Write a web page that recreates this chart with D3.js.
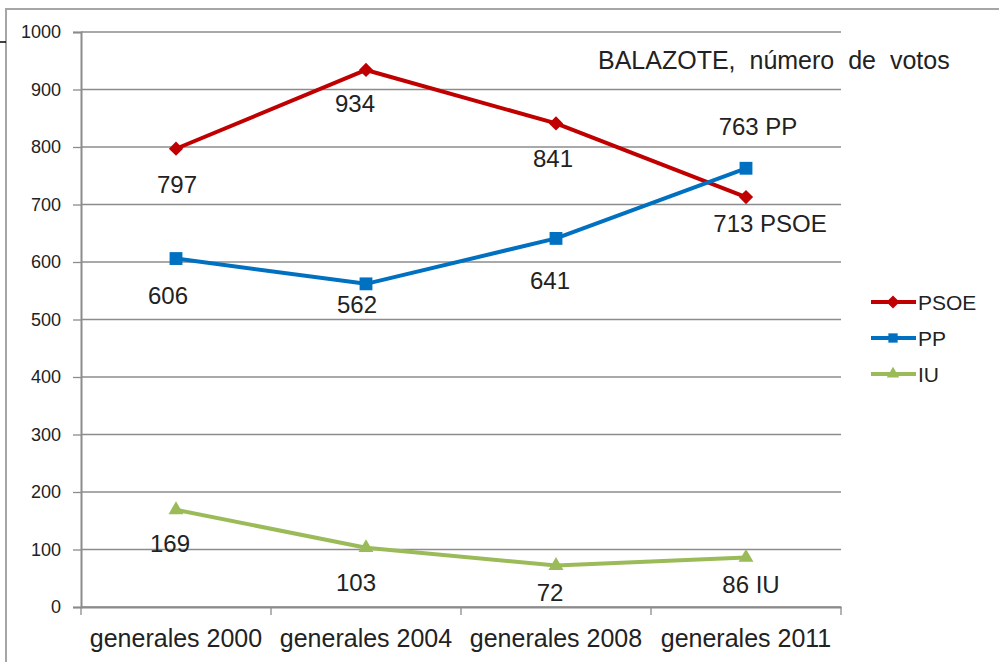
<!DOCTYPE html>
<html>
<head>
<meta charset="utf-8">
<script src="https://cdn.jsdelivr.net/npm/d3@7"></script>
<style>
  body { margin: 0; background: #fff; }
  svg { display: block; font-family: "Liberation Sans", Arial, sans-serif; }
</style>
</head>
<body>
<svg id="chart" width="999" height="662"></svg>
<script>
// categories and series values
const categories = ['generales 2000', 'generales 2004', 'generales 2008', 'generales 2011'];
const psoe = [797, 934, 841, 713];
const pp = [606, 562, 641, 763];
const iu = [169, 103, 72, 86];
const yTicks = [0, 100, 200, 300, 400, 500, 600, 700, 800, 900, 1000];

// label texts (last point carries the party name)
const psoeLabels = ['797', '934', '841', '713 PSOE'];
const ppLabels = ['606', '562', '641', '763 PP'];
const iuLabels = ['169', '103', '72', '86 IU'];

// manual label nudges (dx, dy from the point), as placed in the original
const psoeNudge = [[1, 36], [-11, 34], [-3, 35], [24, 27]];
const ppNudge = [[-8, 37], [-9, 21], [-6, 42], [12, -42]];
const iuNudge = [[-6, 34], [-10, 35], [-6, 27], [5, 27]];

const series = [
  {name: 'PSOE', values: psoe, labels: psoeLabels, nudge: psoeNudge, color: '#C00000', marker: 'diamond'},
  {name: 'PP', values: pp, labels: ppLabels, nudge: ppNudge, color: '#0070C0', marker: 'square'},
  {name: 'IU', values: iu, labels: iuLabels, nudge: iuNudge, color: '#9BBB59', marker: 'triangle'}
];

const svg = d3.select('#chart');
const plot = {left: 81, right: 841, top: 32, bottom: 607};

// outer frame (runs off the bottom/right of the picture)
svg.append('rect')
    .attr('x', 6).attr('y', 9)
    .attr('width', 1200).attr('height', 1000)
    .attr('fill', 'none')
    .attr('stroke', '#a6a6a6')
    .attr('stroke-width', 2);
svg.append('line')
    .attr('x1', 0).attr('x2', 6).attr('y1', 42).attr('y2', 42)
    .attr('stroke', '#000').attr('stroke-width', 1.5);

const x = d3.scaleBand()
    .domain(categories)
    .range([plot.left, plot.right]);
const y = d3.scaleLinear()
    .domain([0, 1000])
    .range([plot.bottom, plot.top]);
const cx = c => x(c) + x.bandwidth() / 2;

// gridlines
svg.append('g')
  .selectAll('line')
  .data(yTicks)
  .join('line')
    .attr('x1', plot.left).attr('x2', plot.right)
    .attr('y1', d => y(d)).attr('y2', d => y(d))
    .attr('stroke', '#8c8c8c')
    .attr('stroke-width', 1.3);

// y axis
const yAxis = d3.axisLeft(y)
    .tickValues(yTicks)
    .tickSize(8)
    .tickPadding(12)
    .tickFormat(d3.format('d'));
const yG = svg.append('g')
    .attr('transform', `translate(${plot.left},0)`)
    .call(yAxis);
yG.select('.domain').attr('stroke', '#8c8c8c').attr('stroke-width', 2);
yG.selectAll('.tick line').attr('stroke', '#8c8c8c').attr('stroke-width', 1.3);
yG.selectAll('.tick text')
    .attr('font-size', 18)
    .attr('font-family', '"Liberation Sans", Arial, sans-serif')
    .attr('fill', '#222');

// x axis: ticks between categories
const xAxis = d3.axisBottom(x).tickSize(0).tickPadding(22);
const xG = svg.append('g')
    .attr('transform', `translate(0,${plot.bottom})`)
    .call(xAxis);
xG.select('.domain').attr('stroke', '#8c8c8c').attr('stroke-width', 2);
xG.selectAll('.tick text')
    .attr('font-size', 25)
    .attr('font-family', '"Liberation Sans", Arial, sans-serif')
    .attr('fill', '#222');
xG.selectAll('line.sep')
  .data(categories.map(c => x(c)).concat([plot.right]))
  .join('line')
    .attr('class', 'sep')
    .attr('x1', d => d).attr('x2', d => d)
    .attr('y1', 0).attr('y2', 8)
    .attr('stroke', '#8c8c8c')
    .attr('stroke-width', 1.3);

const symbolFor = {
  diamond: d3.symbol().type(d3.symbolDiamond2).size(130),
  square: d3.symbol().type(d3.symbolSquare2).size(210),
  triangle: d3.symbol().type(d3.symbolTriangle2).size(160)
};

const line = d3.line()
    .x((d, i) => cx(categories[i]))
    .y(d => y(d));

series.forEach(s => {
  svg.append('path')
      .datum(s.values)
      .attr('fill', 'none')
      .attr('stroke', s.color)
      .attr('stroke-width', 4)
      .attr('stroke-linejoin', 'round')
      .attr('d', line);

  svg.append('g')
    .selectAll('path')
    .data(s.values)
    .join('path')
      .attr('transform', (d, i) => `translate(${cx(categories[i])},${y(d)})`)
      .attr('d', symbolFor[s.marker])
      .attr('fill', s.color);

  svg.append('g')
    .selectAll('text')
    .data(s.values)
    .join('text')
      .attr('x', (d, i) => cx(categories[i]) + s.nudge[i][0])
      .attr('y', (d, i) => y(d) + s.nudge[i][1])
      .attr('dy', '0.35em')
      .attr('text-anchor', 'middle')
      .attr('font-size', 24)
      .attr('fill', '#222')
      .text((d, i) => s.labels[i]);
});

// title
svg.append('text')
    .attr('x', 598).attr('y', 69)
    .attr('font-size', 25)
    .attr('word-spacing', 7)
    .attr('fill', '#222')
    .text('BALAZOTE, número de votos');

// legend
const legend = svg.append('g')
  .selectAll('g')
  .data(series)
  .join('g')
    .attr('transform', (d, i) => `translate(871,${302 + i * 36})`);
legend.append('line')
    .attr('x1', 0).attr('x2', 45)
    .attr('stroke', d => d.color)
    .attr('stroke-width', 4);
legend.append('path')
    .attr('transform', 'translate(22,0)')
    .attr('d', d => d3.symbol().type(d.marker === 'diamond' ? d3.symbolDiamond2 : d.marker === 'square' ? d3.symbolSquare2 : d3.symbolTriangle2).size(110)())
    .attr('fill', d => d.color);
legend.append('text')
    .attr('x', 47)
    .attr('dy', '0.36em')
    .attr('font-size', 21)
    .attr('fill', '#222')
    .text(d => d.name);
</script>
</body>
</html>
